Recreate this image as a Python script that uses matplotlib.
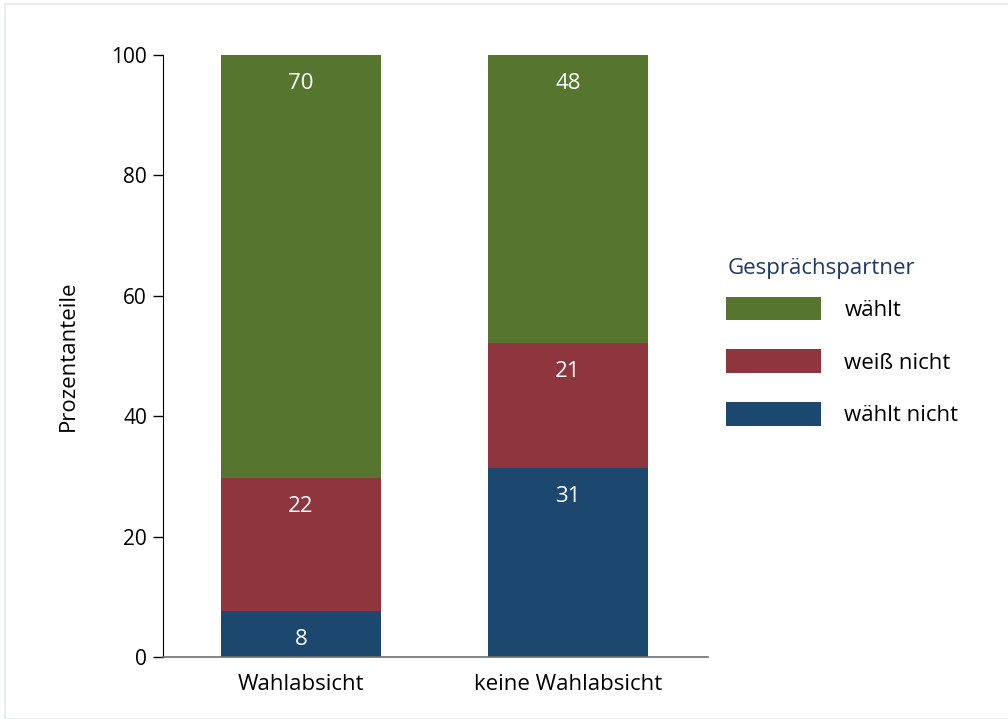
import matplotlib.pyplot as plt
from matplotlib.patches import Rectangle

plt.rcParams['font.family'] = ['Open Sans', 'DejaVu Sans']

# Data
groups = ['Wahlabsicht', 'keine Wahlabsicht']
series = ['wählt nicht', 'weiß nicht', 'wählt']
waehlt_nicht = [7.6, 31.4]
weiss_nicht = [22.1, 20.8]
waehlt = [70.3, 47.8]
labels = {
    'wählt nicht': ['8', '31'],
    'weiß nicht': ['22', '21'],
    'wählt': ['70', '48'],
}
colors = {'wählt nicht': '#1c476f', 'weiß nicht': '#8e353d', 'wählt': '#56752f'}

fig = plt.figure(figsize=(10.08, 7.19), dpi=100)
fig.patches.append(Rectangle((5 / 1008, 0), 1.0, 1 - 4 / 719, transform=fig.transFigure,
                             fill=False, edgecolor='#e3eaee', linewidth=1.2))
ax = fig.add_axes([163 / 1008, 62 / 719, 545 / 1008, 602 / 719])

x = list(range(len(groups)))
bottom = [0, 0]
handles = {}
for name, vals in zip(series, [waehlt_nicht, weiss_nicht, waehlt]):
    bars = ax.bar(x, vals, width=0.6, bottom=bottom, color=colors[name], label=name)
    handles[name] = bars
    for xi, b, v, txt in zip(x, bottom, vals, labels[name]):
        ax.annotate(txt, (xi, b + v), xytext=(0, -20.5), textcoords='offset points',
                    ha='center', va='center', color='white', fontsize=16)
    bottom = [b + v for b, v in zip(bottom, vals)]

ax.set_xlim(-0.517, 1.524)
ax.set_ylim(0, 100)
ax.set_yticks([0, 20, 40, 60, 80, 100])
ax.set_xticks(x)
ax.set_xticklabels(groups)
ax.tick_params(axis='y', length=7, width=1, labelsize=15, pad=4.5)
ax.tick_params(axis='x', length=0, labelsize=16, pad=12)
ax.spines['top'].set_visible(False)
ax.spines['right'].set_visible(False)
ax.spines['bottom'].set_color('#6e6e6e')
ax.spines['bottom'].set_linewidth(1.2)
ax.set_ylabel('Prozentanteile', fontsize=16, labelpad=23)

# legend title drawn separately so the gap to the first row can be set
ax.text(1.0367, 0.645, 'Gesprächspartner', transform=ax.transAxes,
        ha='left', va='center', fontsize=16, color='#1f3864')

order = ['wählt', 'weiß nicht', 'wählt nicht']
ax.legend([handles[n] for n in order], order, loc='upper left',
          bbox_to_anchor=(0.996, 0.632), frameon=False, fontsize=16,
          handlelength=4.3, handleheight=1.28, handletextpad=1.03,
          labelspacing=1.27)

fig.savefig('out.png', dpi=100, facecolor='white')
